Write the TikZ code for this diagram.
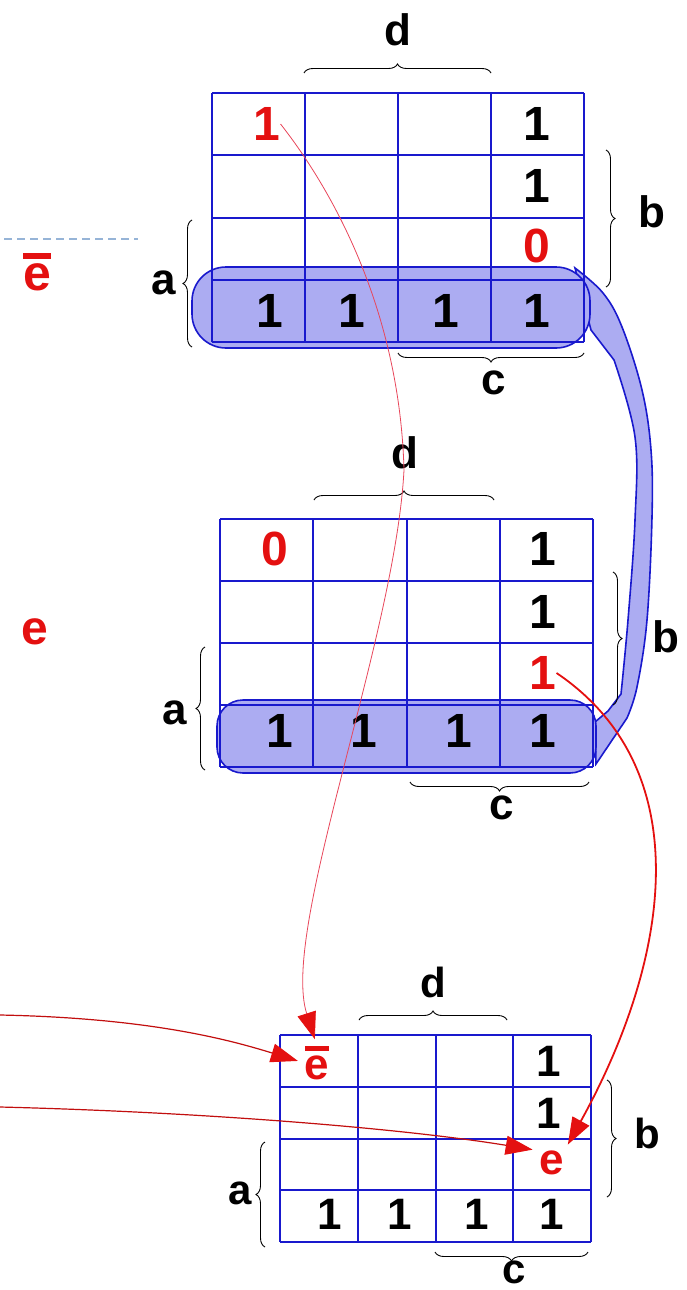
\documentclass[tikz,border=0pt]{standalone}
\usepackage{fontspec}
\setmainfont{Liberation Sans}
\usepackage{xcolor}
\definecolor{kblue}{RGB}{25,25,205}
\definecolor{kband}{RGB}{172,172,242}
\definecolor{kred}{RGB}{228,16,16}
\definecolor{kpink}{RGB}{232,70,90}
\definecolor{kdash}{RGB}{150,180,215}
\usetikzlibrary{arrows.meta,decorations.pathreplacing}
\newcommand{\ebar}{\vbox{\hrule height 0.12em\kern 0.1em\hbox{e}}}

\begin{document}
\begin{tikzpicture}[x=1pt,y=-1pt,>=Latex]
\tikzset{
 grd/.style={draw=kblue,line width=2pt},
 band/.style={draw=kblue,line width=1.6pt,fill=kband},
 num/.style={inner sep=0pt,font=\fontsize{48}{48}\selectfont\bfseries},
 sml/.style={inner sep=0pt,font=\fontsize{44}{44}\selectfont\bfseries},
 lbl/.style={inner sep=0pt,font=\fontsize{44}{44}\selectfont\bfseries},
 brc/.style={decorate,decoration={brace,amplitude=9pt},line width=0.9pt},
 arr/.style={-{Triangle[length=27pt,width=19pt,color=kred]},shorten >=7pt}
}
\useasboundingbox (0,0) rectangle (686,1290);

% ribbon joining the two quads
\filldraw[band] plot[smooth,tension=0.6] coordinates {(575,268) (603,293) (622,327) (642,390) (651,450) (652,517) (647,620) (637,687) (627,718)}
 -- (596,764) -- (595,722) -- (608,711)
 -- plot[smooth,tension=0.6] coordinates {(621,694) (628,620) (635,520) (635,437) (614,360)} -- (591,330) -- cycle;
\filldraw[band,rounded corners=34pt] (192,267) rectangle (590,348);
\filldraw[band,rounded corners=26pt] (217,700) rectangle (596,773);

% grids
\foreach \i in {0,...,4}{
 \draw[grd] (212+93*\i,93) -- (212+93*\i,342);
 \draw[grd] (212,93+62.25*\i) -- (584,93+62.25*\i);
 \draw[grd] (220+93.25*\i,519) -- (220+93.25*\i,767);
 \draw[grd] (220,519+62*\i) -- (593,519+62*\i);
 \draw[grd] (280+77.75*\i,1035) -- (280+77.75*\i,1242);
 \draw[grd] (280,1035+51.75*\i) -- (591,1035+51.75*\i);
}

\draw[kdash,line width=1.2pt,dash pattern=on 8pt off 5pt] (4,239) -- (138,239);
\node[lbl,text=kred,font=\fontsize{50}{50}\selectfont\bfseries] (lEbar) at (37,272) {\ebar};
\node[lbl,text=kred,font=\fontsize{48}{48}\selectfont\bfseries] (lE) at (35,632) {e};

% top map
\node[num,text=kred] (t11) at (267,124) {1};
\node[num] (t14) at (537,124) {1};
\node[num] (t24) at (537,186) {1};
\node[num,text=kred] (t34) at (537,246) {0};
\foreach \x [count=\k] in {270,352,446,537}
 \node[num] (t4\k) at (\x,311) {1};
\draw[brc] (304,73) -- (491,73);
\draw[brc] (606,150) -- (606,287);
\draw[brc] (192,347) -- (192,220);
\draw[brc] (584,353) -- (398,353);
\node[lbl] (tD) at (398,30) {d};
\node[lbl] (tB) at (652,212) {b};
\node[lbl] (tA) at (164,283) {a};
\node[lbl] (tC) at (494,383) {c};

% middle map
\node[num,text=kred] (m11) at (275,549) {0};
\node[num] (m14) at (543,549) {1};
\node[num] (m24) at (543,612) {1};
\node[num,text=kred] (mR) at (543,673) {1};
\foreach \x [count=\k] in {280,364,459,543}
 \node[num] (m4\k) at (\x,731) {1};
\draw[brc] (314,500) -- (494,500);
\draw[brc] (613,572) -- (613,705);
\draw[brc] (205,770) -- (205,647);
\draw[brc] (589,782) -- (410,782);
\node[lbl] (mD) at (405,453) {d};
\node[lbl] (mB) at (666,637) {b};
\node[lbl] (mA) at (175,713) {a};
\node[lbl] (mC) at (502,808) {c};

% bottom map
\node[sml,text=kred] (bE) at (317,1063) {\ebar};
\node[sml] (b14) at (549,1061) {1};
\node[sml] (b24) at (549,1113) {1};
\node[sml,text=kred] (be) at (552,1163) {e};
\foreach \x [count=\k] in {330,400,477,552}
 \node[sml] (b4\k) at (\x,1214) {1};
\draw[brc] (359,1020) -- (507,1020);
\draw[brc] (607,1080) -- (607,1197);
\draw[brc] (265,1247) -- (265,1142);
\draw[brc] (588,1252) -- (435,1252);
\node[lbl,font=\fontsize{42}{42}\selectfont\bfseries] (bD) at (433,982) {d};
\node[lbl,font=\fontsize{42}{42}\selectfont\bfseries] (bB) at (647,1133) {b};
\node[lbl,font=\fontsize{42}{42}\selectfont\bfseries] (bA) at (240,1193) {a};
\node[lbl,font=\fontsize{42}{42}\selectfont\bfseries] (bC) at (514,1272) {c};

\coordinate (lA) at (0,1015);
\coordinate (lB) at (0,1107);
\draw[arr,kpink,line width=0.8pt] (t11.east) .. controls (340,200) and (400,320) .. (404,470)
 .. controls (395,640) and (280,930) .. (bE.north);
\draw[arr,kred,line width=1.8pt] (mR.east) .. controls (700,770) and (670,960) .. (be.north east);
\draw[arr,kred!85!black,line width=1.2pt] (lA) .. controls (150,1018) and (230,1040) .. (bE.west);
\draw[arr,kred!85!black,line width=1.2pt] (lB) .. controls (200,1112) and (400,1128) .. (be.north west);
\end{tikzpicture}
\end{document}
